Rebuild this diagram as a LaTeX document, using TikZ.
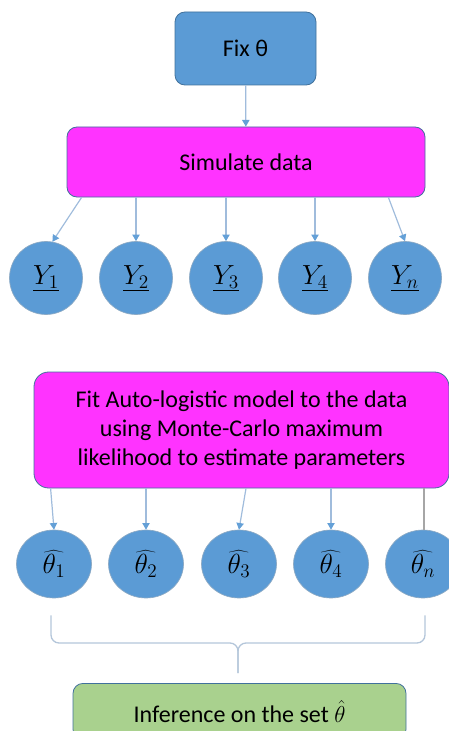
\documentclass[tikz,border=0pt]{standalone}
\usepackage{fontspec}
\setmainfont{Carlito}
\usetikzlibrary{arrows.meta,positioning,calc,shapes.geometric}
\definecolor{boxblue}{RGB}{91,155,213}
\definecolor{boxedge}{RGB}{65,113,156}
\definecolor{simpink}{RGB}{255,51,255}
\definecolor{infgreen}{RGB}{169,209,142}
\definecolor{linkblue}{RGB}{160,188,220}
\definecolor{tipblue}{RGB}{100,160,215}
\definecolor{bracegray}{RGB}{180,198,218}
\tikzset{
  stepbox/.style={rectangle, rounded corners=7.5pt, draw=boxedge, line width=0.6pt, align=center, inner sep=0pt, font=\fontsize{18}{22}\selectfont},
  ybubble/.style={circle, fill=boxblue, draw=boxedge!60, line width=0.5pt, minimum size=54.75pt, inner sep=0pt, font=\fontsize{20}{24}\selectfont},
  thbubble/.style={ellipse, fill=boxblue, draw=boxedge!60, line width=0.5pt, minimum width=56.25pt, minimum height=51pt, inner sep=0pt, font=\fontsize{20}{24}\selectfont},
  link/.style={draw=linkblue, line width=0.9pt, -{Triangle[length=5pt,width=5.5pt,color=tipblue]}},
}

\begin{document}
\begin{tikzpicture}[x=0.75pt,y=0.75pt,yscale=-1,xscale=1]
\path[use as bounding box] (0,0) rectangle (449,731);
\clip (0,0) rectangle (449,731);

%Rounded Rect: fix theta
\node[stepbox, fill=boxblue, minimum width=105.75pt, minimum height=54.75pt] (fix) at (245.5,48.5) {Fix θ};
%Rounded Rect: simulate
\node[stepbox, fill=simpink, minimum width=268.5pt, minimum height=52.5pt] (sim) at (246,162) {Simulate data};

%Circles: simulated data sets
\node[ybubble] (y1) at (46,278) {$\underline{Y_1}$};
\node[ybubble] (y2) at (136,278) {$\underline{Y_2}$};
\node[ybubble] (y3) at (226,278) {$\underline{Y_3}$};
\node[ybubble] (y4) at (315,278) {$\underline{Y_4}$};
\node[ybubble] (yn) at (405,278) {$\underline{Y_n}$};

%Rounded Rect: fit model
\node[stepbox, fill=simpink, rounded corners=11pt, minimum width=311.25pt, minimum height=87pt] (fit) at (241.5,430) {Fit Auto-logistic model to the data\\using Monte-Carlo maximum\\likelihood to estimate parameters};

%Ellipses: estimates
\node[thbubble] (th1) at (54,564) {$\widehat{\theta_1}$};
\node[thbubble] (th2) at (146,564) {$\widehat{\theta_2}$};
\node[thbubble] (th3) at (239,564) {$\widehat{\theta_3}$};
\node[thbubble] (th4) at (331,564) {$\widehat{\theta_4}$};
\node[thbubble] (thn) at (423,564) {$\widehat{\theta_n}$};

%Rounded Rect: inference
\node[stepbox, fill=infgreen, minimum width=249.75pt, minimum height=42pt, anchor=north] (inf) at (239.5,683) {Inference on the set $\hat{\theta}$};

%Straight Lines
\draw[link] (fix) -- (sim);
\draw[link] ($(sim.south west)+(15,0)$) -- (y1.80);
\draw[link] (sim.south -| y2) -- (y2);
\draw[link] (sim.south -| y3) -- (y3);
\draw[link] (sim.south -| y4) -- (y4);
\draw[link] ($(sim.south east)+(-37,0)$) -- (yn.north);

\draw[link] ($(fit.south west)+(17,0)$) -- (th1.north);
\draw[link] (fit.south -| th2) -- (th2);
\draw[link] ($(fit.south)+(4.5,0)$) -- (th3.north);
\draw[link] (fit.south -| th4) -- (th4);
\draw[draw=gray!70, line width=0.9pt] ($(fit.south)+(182.5,0)$) -- ($(thn.north)+(1,0)$);

%Brace
\coordinate (bmid) at (238,643);
\draw[bracegray, line width=1pt, rounded corners=6pt] ($(th1.south)+(-3,17)$) |- (bmid) -- ($(inf.north)+(-1.5,-10)$);
\draw[bracegray, line width=1pt, rounded corners=6pt] ($(thn.south)+(2,17)$) |- (bmid) -- ($(inf.north)+(-1.5,-10)$);

\end{tikzpicture}
\end{document}
